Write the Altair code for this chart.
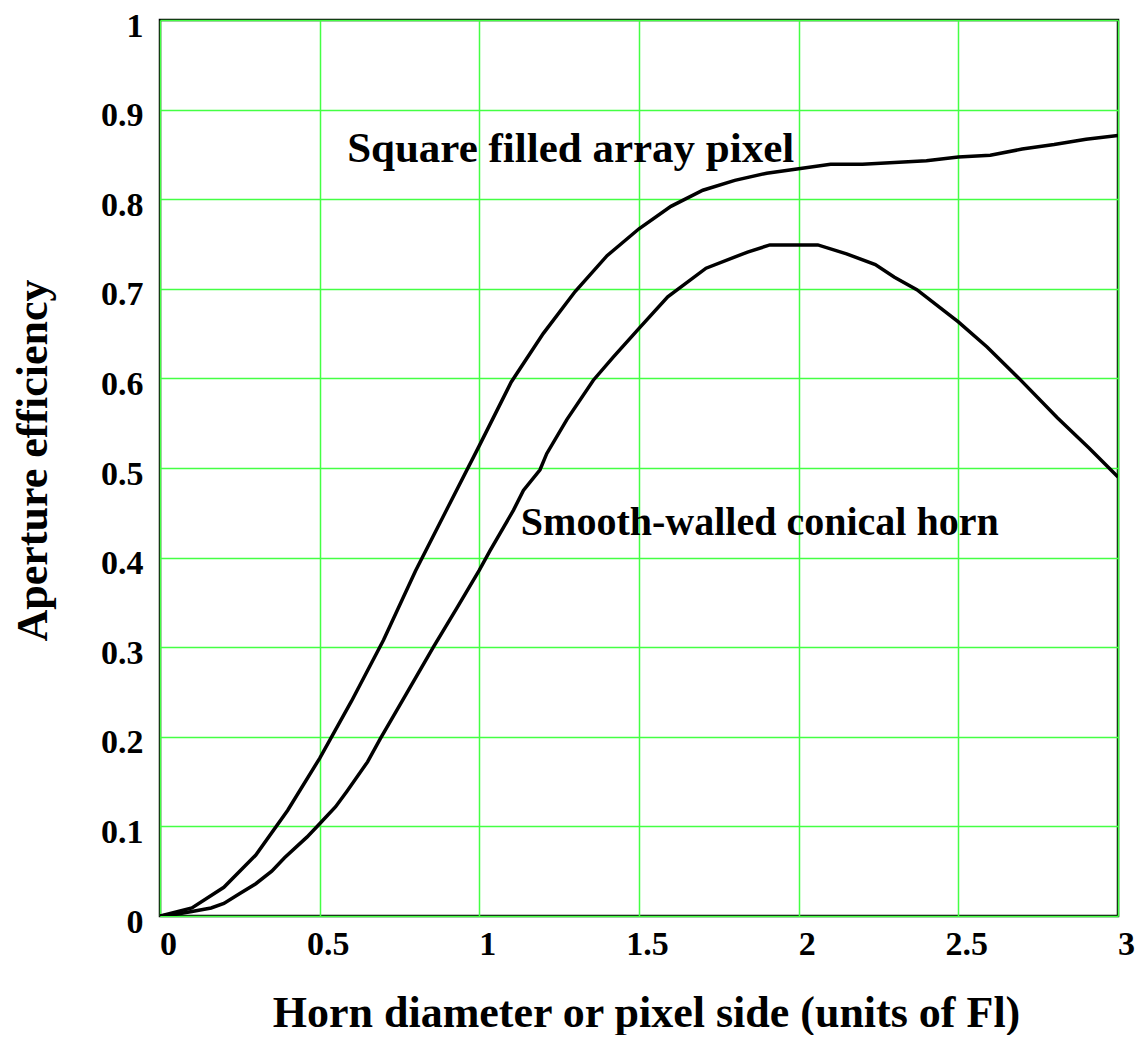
import altair as alt
import pandas as pd

# Square filled array pixel
sq_x = [0.0, 0.1, 0.2, 0.3, 0.4, 0.5, 0.6, 0.7, 0.8, 0.9, 1.0, 1.1, 1.2, 1.3, 1.4, 1.5,
        1.6, 1.7, 1.8, 1.9, 2.0, 2.1, 2.2, 2.3, 2.4, 2.5, 2.6, 2.7, 2.8, 2.9, 3.0]
sq_y = [0.0, 0.009, 0.032, 0.068, 0.118, 0.176, 0.240, 0.308, 0.385, 0.455, 0.525, 0.596,
        0.650, 0.697, 0.737, 0.767, 0.792, 0.810, 0.821, 0.829, 0.834, 0.839, 0.839, 0.841,
        0.843, 0.847, 0.849, 0.856, 0.861, 0.867, 0.871]

# Smooth-walled conical horn
cn_x = [0.0, 0.05, 0.1, 0.16, 0.2, 0.25, 0.3, 0.35, 0.39, 0.46, 0.5, 0.55, 0.585, 0.65,
        0.69, 0.77, 0.856, 0.93, 1.0, 1.034, 1.107, 1.138, 1.19, 1.211, 1.274, 1.357, 1.42,
        1.503, 1.59, 1.71, 1.84, 1.91, 2.06, 2.15, 2.24, 2.30, 2.37, 2.5, 2.59, 2.69, 2.81,
        2.91, 3.0]
cn_y = [0.0, 0.002, 0.005, 0.009, 0.014, 0.025, 0.036, 0.050, 0.065, 0.088, 0.103, 0.122,
        0.139, 0.172, 0.198, 0.247, 0.300, 0.344, 0.386, 0.408, 0.453, 0.475, 0.498, 0.516,
        0.554, 0.598, 0.624, 0.657, 0.691, 0.723, 0.741, 0.749, 0.749, 0.739, 0.727, 0.713,
        0.699, 0.663, 0.635, 0.600, 0.556, 0.522, 0.490]

x_ticks = [0, 0.5, 1, 1.5, 2, 2.5, 3]
y_ticks = [0, 0.1, 0.2, 0.3, 0.4, 0.5, 0.6, 0.7, 0.8, 0.9, 1]

label_text = ["Square filled array pixel", "Smooth-walled conical horn"]
label_x = [0.586, 1.13]
label_y = [0.8415, 0.425]
label_size = [43, 40]

FONT = "Liberation Serif"

df = pd.concat([
    pd.DataFrame({"x": sq_x, "y": sq_y, "series": "Square filled array pixel"}),
    pd.DataFrame({"x": cn_x, "y": cn_y, "series": "Smooth-walled conical horn"}),
])
labels = pd.DataFrame({"x": label_x, "y": label_y, "t": label_text, "s": label_size})

xs = alt.Scale(domain=[0, 3], nice=False, zero=False)
ys = alt.Scale(domain=[0, 1], nice=False, zero=False)

x_axis = alt.Axis(values=x_ticks, format="~g", grid=True, gridColor="#44ff44",
                  gridWidth=1.5, gridOpacity=1, ticks=False, tickSize=0, domain=False,
                  labelFont=FONT, labelFontWeight="bold", labelFontSize=34,
                  labelColor="black", labelPadding=11, labelOffset=8, labelFlush=False,
                  title="Horn diameter or pixel side (units of Fl)",
                  titleFont=FONT, titleFontWeight="bold", titleFontSize=44,
                  titleColor="black", titleX=486, titleY=110,
                  titleBaseline="alphabetic", titleAlign="center")
y_axis = alt.Axis(values=y_ticks, format="~g", grid=True, gridColor="#44ff44",
                  gridWidth=1.5, gridOpacity=1, ticks=False, tickSize=0, domain=False,
                  labelFont=FONT, labelFontWeight="bold", labelFontSize=34,
                  labelColor="black", labelPadding=17, labelOffset=6, labelFlush=False,
                  labelBaseline="middle",
                  title="Aperture efficiency",
                  titleFont=FONT, titleFontWeight="bold", titleFontSize=44,
                  titleColor="black", titleX=-127, titleY=440, titleAngle=270,
                  titleBaseline="middle", titleAlign="center")

lines = alt.Chart(df).mark_line(color="black", strokeWidth=3.5, clip=True).encode(
    x=alt.X("x:Q", scale=xs, axis=x_axis),
    y=alt.Y("y:Q", scale=ys, axis=y_axis),
    detail="series:N",
    order=alt.Order("x:Q"),
)

texts = alt.Chart(labels).mark_text(
    font=FONT, fontWeight="bold", color="black",
    align="left", baseline="alphabetic"
).encode(x=alt.X("x:Q", scale=xs), y=alt.Y("y:Q", scale=ys), text="t:N",
         size=alt.Size("s:Q", scale=None, legend=None))

chart = alt.layer(lines, texts).properties(
    width=958, height=896,
    autosize=alt.AutoSizeParams(type="none"),
    padding={"left": 152, "top": 12, "right": 17, "bottom": 119},
    background="white",
).configure_view(stroke="black", strokeWidth=2.5)

chart.save("out.html", embed_options={"renderer": "svg", "actions": False})
